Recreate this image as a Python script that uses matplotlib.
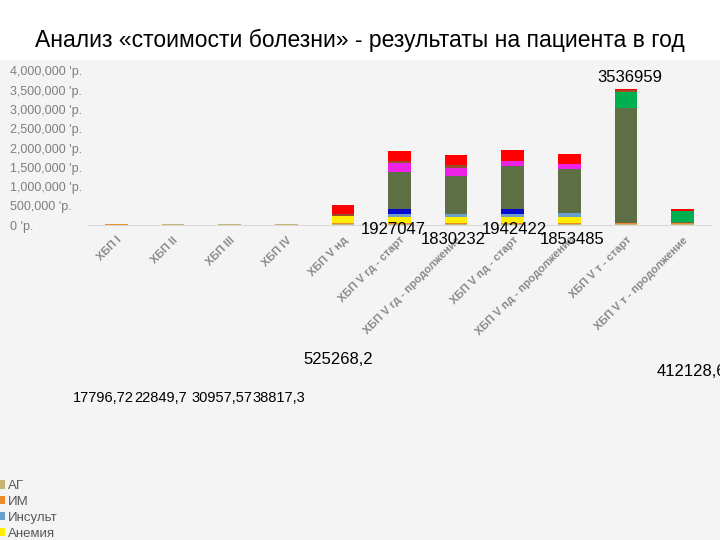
import matplotlib
matplotlib.use("Agg")
import matplotlib.pyplot as plt
from matplotlib.patches import Rectangle
from matplotlib.ticker import FuncFormatter
import numpy as np

plt.rcParams['font.family'] = ['Liberation Sans', 'DejaVu Sans']

# categories and stacked components (руб. на пациента в год)
categories = ["ХБП I", "ХБП II", "ХБП III", "ХБП IV", "ХБП V нд",
              "ХБП V гд - старт", "ХБП V гд - продолжение",
              "ХБП V пд - старт", "ХБП V пд - продолжение",
              "ХБП V т - старт", "ХБП V т - продолжение"]

ag       = [11200, 13500, 16800, 19200, 30000, 20000, 13000, 20000, 20000, 30000, 22000]
im       = [4100, 5600, 8200, 11000, 25000, 25000, 30000, 24000, 24000, 30000, 20000]
anemia   = [1200, 1700, 2800, 4500, 175000, 155000, 155000, 173000, 173000, 0, 0]
insult   = [1296.72, 2049.7, 3157.57, 4117.3, 10000, 85000, 85000, 70000, 104000, 0, 0]
access   = [0, 0, 0, 0, 0, 130000, 0, 130000, 0, 0, 0]
zpt      = [0, 0, 0, 0, 0, 967000, 1000000, 1118000, 1142000, 2975000, 25000]
mkn      = [0, 0, 0, 0, 0, 235000, 200000, 130000, 130000, 0, 0]
immuno   = [0, 0, 0, 0, 0, 0, 0, 0, 0, 415000, 285000]
other    = [0, 0, 0, 0, 45000, 50000, 85000, 0, 0, 44000, 0]
hosp     = [0, 0, 0, 0, 240000, 260000, 260000, 277000, 260000, 44000, 60000]

# totals as printed on the slide
totals = [17796.72, 22849.7, 30957.57, 38817.3, 525268.2, 1927047, 1830232,
          1942422, 1853485, 3536959, 412128.6]

# stacking order bottom -> top
stack = [
    ("АГ", ag, "#C4B46E"),
    ("ИМ", im, "#EE8A2A"),
    ("Анемия", anemia, "#FFEE00"),
    ("Инсульт", insult, "#6A9FCB"),
    ("Сосудистый доступ", access, "#0A0ACC"),
    ("ЗПТ", zpt, "#5E6E45"),
    ("МКН", mkn, "#EE22E6"),
    ("Иммуносупрессия", immuno, "#00B050"),
    ("Прочее", other, "#9B4E2A"),
    ("Госпитализации", hosp, "#FF0000"),
]
legend_order = ["АГ", "ИМ", "Инсульт", "Анемия", "Сосудистый доступ", "ЗПТ",
                "МКН", "Иммуносупрессия", "Прочее", "Госпитализации"]

W, H = 720, 540
fig = plt.figure(figsize=(7.2, 5.4), dpi=100)
fig.patch.set_facecolor("white")
fig.patches.append(Rectangle((0, 0), 1, 1 - 60 / H, transform=fig.transFigure,
                             facecolor="#F4F4F4", edgecolor="none", zorder=-5))

fig.text(0.5, 1 - 46.5 / H, "Анализ «стоимости болезни» - результаты на пациента в год",
         ha="center", va="baseline", fontsize=16.5, color="black")

ax = fig.add_axes([88 / W, 1 - 225 / H, (711 - 88) / W, (225 - 71) / H])
ax.set_facecolor("none")

x = np.arange(len(categories))
bottom = np.zeros(len(categories))
handles = {}
for name, vals, col in stack:
    v = np.array(vals, dtype=float)
    b = ax.bar(x, v, 0.4, bottom=bottom, color=col, edgecolor="none", label=name, zorder=2)
    handles[name] = b
    bottom += v

ax.set_xlim(-0.5, len(categories) - 0.5)
ax.set_ylim(0, 4000000)
ax.set_yticks(np.arange(0, 4000001, 500000))
ax.yaxis.set_major_formatter(FuncFormatter(lambda v, p: f"{v:,.0f} 'р."))
ax.tick_params(axis="y", length=0, pad=56, labelcolor="#7F7F7F", labelsize=9)
for lbl in ax.get_yticklabels():
    lbl.set_ha("left")

ax.set_xticks(x)
ax.set_xticklabels(categories, rotation=45, ha="right", rotation_mode="anchor",
                   fontsize=8, color="#8A8A8A", fontweight="bold")
ax.tick_params(axis="x", length=0, pad=7)

for s in ["top", "right", "left"]:
    ax.spines[s].set_visible(False)
ax.spines["bottom"].set_color("#D9D9D9")
ax.spines["bottom"].set_linewidth(0.8)


def fmt(v):
    s = f"{v:.2f}".rstrip("0").rstrip(".")
    return s.replace(".", ",")


# label positions (pixels) and sizes as dragged on the slide
label_pos = [(103, 398), (161, 398), (222, 398), (279, 398), (338, 359),
             (393, 229), (453, 239), (514, 229), (572, 239), (630, 78), (691, 372)]
label_size = [10.5, 10.5, 10.5, 10.5, 12, 12, 12, 12, 12, 12, 12]
for t, (px, py), fs in zip(totals, label_pos, label_size):
    fig.text(px / W, 1 - py / H, fmt(t), ha="center", va="center",
             fontsize=fs, color="black")

fig.legend([handles[n] for n in legend_order], legend_order, loc="upper left",
           bbox_to_anchor=(-0.004, 1 - 480 / H), frameon=False, fontsize=9.5,
           handlelength=0.6, handleheight=0.6, handletextpad=0.25,
           labelspacing=0.3, borderpad=0, borderaxespad=0, labelcolor="#595959")

fig.savefig("out.png", dpi=100)
